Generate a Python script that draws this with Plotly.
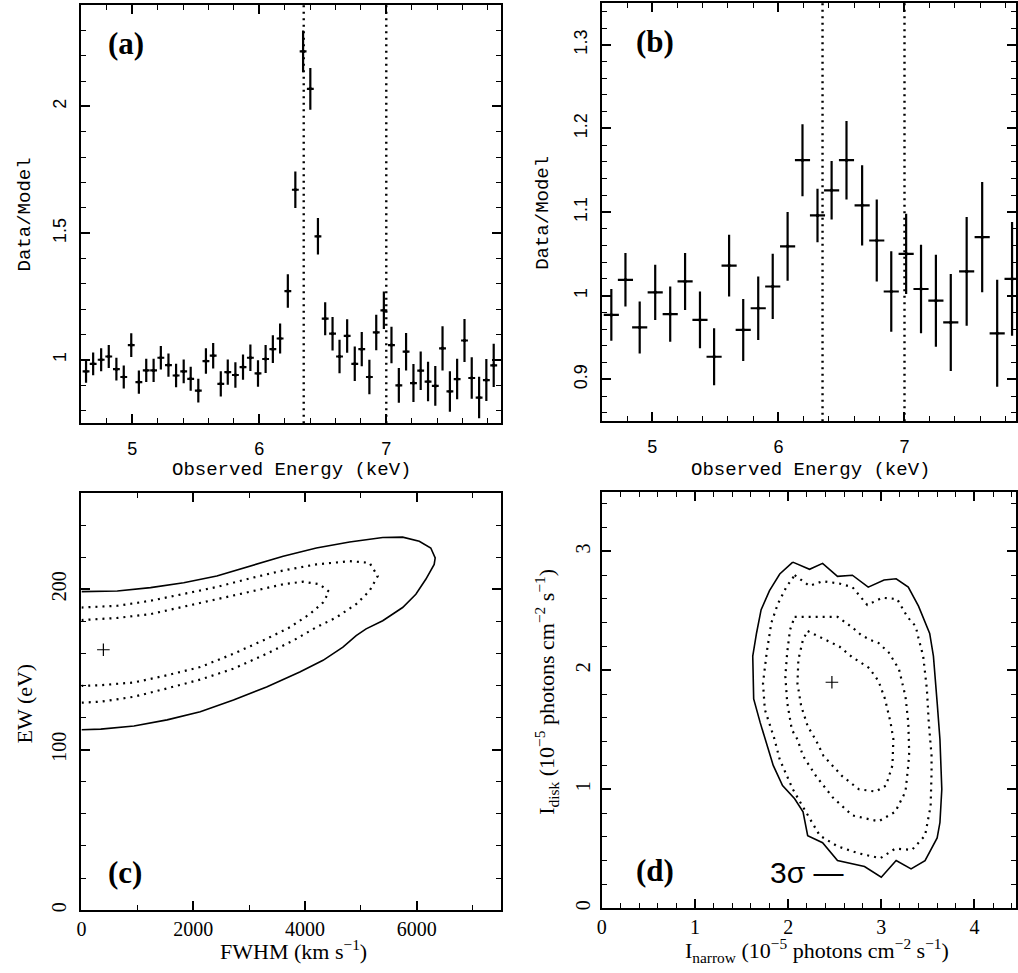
import plotly.graph_objects as go

# ---------------- DATA ----------------
# Panel (a): Data/Model ratio
energy_a = [4.636, 4.692, 4.755, 4.815, 4.875, 4.933, 4.992, 5.052, 5.110, 5.168,
            5.225, 5.285, 5.345, 5.405, 5.460, 5.520, 5.580, 5.637, 5.697, 5.752,
            5.812, 5.872, 5.930, 5.990, 6.050, 6.107, 6.164, 6.225, 6.284, 6.345,
            6.402, 6.462, 6.519, 6.577, 6.632, 6.692, 6.752, 6.807, 6.867, 6.921,
            6.981, 7.041, 7.099, 7.156, 7.214, 7.271, 7.329, 7.386, 7.443, 7.501,
            7.558, 7.616, 7.673, 7.731, 7.788, 7.846]
ratio_a = [0.954, 0.984, 1.000, 1.013, 0.963, 0.932, 1.058, 0.912, 0.958, 0.958,
           1.008, 0.979, 0.938, 0.954, 0.925, 0.878, 0.995, 1.016, 0.905, 0.951,
           0.940, 0.971, 1.008, 0.946, 1.003, 1.042, 1.084, 1.271, 1.671, 2.217,
           2.069, 1.487, 1.162, 1.103, 1.013, 1.094, 0.984, 1.042, 0.932, 1.108,
           1.195, 1.058, 0.899, 1.032, 0.908, 0.957, 0.914, 0.897, 1.045, 0.875,
           0.924, 1.076, 0.928, 0.851, 0.920, 0.978]
err_a = [0.045, 0.045, 0.045, 0.045, 0.045, 0.045, 0.047, 0.046, 0.046, 0.046,
         0.046, 0.046, 0.046, 0.047, 0.047, 0.047, 0.050, 0.050, 0.050, 0.050,
         0.050, 0.050, 0.052, 0.052, 0.055, 0.055, 0.059, 0.066, 0.072, 0.082,
         0.082, 0.072, 0.065, 0.066, 0.066, 0.066, 0.068, 0.068, 0.068, 0.070,
         0.074, 0.072, 0.069, 0.074, 0.075, 0.076, 0.078, 0.078, 0.087, 0.080,
         0.080, 0.085, 0.082, 0.082, 0.083, 0.085]
halfbin_a = 0.027

# Panel (b): Data/Model ratio (coarser binning)
energy_b = [4.675, 4.787, 4.900, 5.023, 5.142, 5.260, 5.378, 5.490, 5.609, 5.721,
            5.840, 5.955, 6.073, 6.191, 6.310, 6.422, 6.540, 6.664, 6.780, 6.895,
            7.013, 7.131, 7.249, 7.367, 7.493, 7.616, 7.735, 7.853]
ratio_b = [0.977, 1.019, 0.962, 1.004, 0.978, 1.017, 0.971, 0.927, 1.036, 0.959,
           0.985, 1.011, 1.059, 1.162, 1.096, 1.126, 1.162, 1.108, 1.066, 1.005,
           1.050, 1.008, 0.994, 0.968, 1.029, 1.070, 0.955, 1.020]
err_b = [0.031, 0.032, 0.031, 0.033, 0.033, 0.034, 0.034, 0.034, 0.037, 0.037,
         0.038, 0.039, 0.041, 0.043, 0.032, 0.035, 0.047, 0.048, 0.049, 0.048,
         0.048, 0.053, 0.055, 0.058, 0.065, 0.066, 0.064, 0.068]
halfbin_b = 0.06

line_energies = [6.35, 7.0]

# Panel (c): EW vs FWHM confidence contours
c_outer_fwhm = [0, 641, 1236, 1829, 2422, 3016, 3610, 4203, 4798, 5391, 5747, 6045, 6251,
                6330, 6312, 6162, 5984, 5747, 5391, 5094, 4916, 4679, 4323, 3907, 3313,
                2720, 2126, 1532, 939, 345, 0]
c_outer_ew = [198.5, 198.9, 201.0, 204.1, 208.2, 214.4, 220.6, 225.7, 229.4, 232.3, 232.5,
              229.9, 225.7, 219.5, 215.5, 206.2, 196.9, 188.6, 180.4, 175.3, 171.1, 163.9,
              155.7, 148.4, 139.1, 130.9, 123.7, 118.6, 114.8, 112.8, 112.4]
c_mid_fwhm = [0, 641, 1236, 1829, 2422, 3016, 3610, 4203, 4798, 5154, 5302, 5154, 4916,
              4559, 4203, 3788, 3313, 2720, 2126, 1532, 939, 345, 0]
c_mid_ew = [188.6, 189.7, 192.8, 196.9, 201.4, 206.8, 211.7, 215.5, 217.5, 216.5, 208.2,
            198.9, 190.7, 182.4, 176.3, 168.0, 159.8, 150.5, 143.7, 138.2, 133.0, 129.9, 129.3]
c_in_fwhm = [0, 641, 1236, 1829, 2422, 3016, 3610, 3966, 4263, 4430, 4323, 4085, 3729,
             3313, 2720, 2126, 1532, 939, 345, 0]
c_in_ew = [180.8, 182.1, 184.5, 189.1, 193.8, 198.5, 203.1, 204.7, 203.1, 198.5, 191.7,
           184.5, 176.3, 169.1, 159.8, 151.5, 146.4, 141.9, 140.2, 139.8]
c_best = (392, 162.3)

# Panel (d): I_disk vs I_narrow confidence contours
d_c3_x = [2.05, 2.17, 2.23, 2.37, 2.53, 2.69, 2.86, 3.03, 3.16, 3.29, 3.40, 3.52, 3.56,
          3.60, 3.63, 3.65, 3.63, 3.60, 3.47, 3.32, 3.16, 3.00, 2.82, 2.53, 2.37, 2.21,
          2.16, 2.07, 1.94, 1.84, 1.82, 1.76, 1.70, 1.63, 1.62, 1.66, 1.71, 1.80, 1.91, 2.05]
d_c3_y = [2.91, 2.87, 2.85, 2.90, 2.79, 2.80, 2.70, 2.76, 2.77, 2.70, 2.54, 2.31, 2.12,
          1.73, 1.42, 1.00, 0.72, 0.59, 0.40, 0.33, 0.40, 0.26, 0.35, 0.40, 0.55, 0.61,
          0.81, 0.92, 1.03, 1.20, 1.25, 1.42, 1.56, 1.76, 2.12, 2.31, 2.51, 2.67, 2.81, 2.91]
d_c2_x = [2.07, 2.23, 2.37, 2.55, 2.69, 2.85, 3.01, 3.17, 3.28, 3.37, 3.40, 3.45, 3.49,
          3.51, 3.54, 3.54, 3.53, 3.47, 3.33, 3.15, 2.99, 2.76, 2.53, 2.34, 2.19, 2.05,
          1.91, 1.85, 1.75, 1.73, 1.77, 1.82, 1.89, 1.98, 2.07]
d_c2_y = [2.80, 2.71, 2.75, 2.73, 2.70, 2.55, 2.61, 2.60, 2.45, 2.37, 2.27, 2.12, 1.84,
          1.56, 1.28, 1.14, 0.86, 0.61, 0.49, 0.50, 0.42, 0.46, 0.52, 0.61, 0.81, 1.00,
          1.25, 1.43, 1.67, 1.89, 2.15, 2.40, 2.56, 2.70, 2.80]
d_c1_x = [2.07, 2.26, 2.53, 2.69, 2.78, 2.87, 2.97, 3.08, 3.19, 3.26, 3.29, 3.30, 3.29,
          3.26, 3.15, 2.97, 2.69, 2.48, 2.30, 2.16, 2.10, 2.04, 1.99, 1.97, 1.99, 2.02, 2.07]
d_c1_y = [2.45, 2.45, 2.45, 2.36, 2.30, 2.26, 2.23, 2.15, 2.01, 1.78, 1.56, 1.31, 1.20,
          0.98, 0.81, 0.73, 0.78, 0.93, 1.11, 1.28, 1.42, 1.50, 1.73, 1.95, 2.15, 2.34, 2.45]
d_c0_x = [2.21, 2.37, 2.55, 2.69, 2.87, 2.97, 3.04, 3.10, 3.13, 3.12, 3.05, 2.94, 2.76,
          2.58, 2.38, 2.30, 2.21, 2.14, 2.10, 2.11, 2.16, 2.21]
d_c0_y = [2.33, 2.27, 2.20, 2.11, 2.02, 1.91, 1.76, 1.56, 1.42, 1.20, 1.03, 0.98, 1.00,
          1.11, 1.28, 1.41, 1.53, 1.70, 1.89, 2.09, 2.26, 2.33]
d_best = (2.47, 1.90)

# ---------------- FIGURE ----------------
W, H = 1018, 973


def xdom(l, r):
    return [l / W, min(r / W, 1.0)]


def ydom(t, b):
    return [1 - b / H, 1 - t / H]


fig = go.Figure()

ebar = dict(type='data', color='black', thickness=2.2, width=0)

fig.add_trace(go.Scatter(
    x=energy_a, y=ratio_a, mode='markers',
    marker=dict(size=3.5, color='black'),
    error_y=dict(array=err_a, **ebar),
    error_x=dict(array=[halfbin_a] * len(energy_a), **ebar),
    xaxis='x', yaxis='y', showlegend=False))

fig.add_trace(go.Scatter(
    x=energy_b, y=ratio_b, mode='markers',
    marker=dict(size=3.5, color='black'),
    error_y=dict(array=err_b, **ebar),
    error_x=dict(array=[halfbin_b] * len(energy_b), **ebar),
    xaxis='x2', yaxis='y2', showlegend=False))

dotted = dict(color='black', width=2.2, dash='2px,5px')
solid = dict(color='black', width=1.6)

# panel c contours
fig.add_trace(go.Scatter(x=c_outer_fwhm, y=c_outer_ew, mode='lines', line=solid,
                         xaxis='x3', yaxis='y3', showlegend=False))
fig.add_trace(go.Scatter(x=c_mid_fwhm, y=c_mid_ew, mode='lines', line=dotted,
                         xaxis='x3', yaxis='y3', showlegend=False))
fig.add_trace(go.Scatter(x=c_in_fwhm, y=c_in_ew, mode='lines', line=dotted,
                         xaxis='x3', yaxis='y3', showlegend=False))
fig.add_trace(go.Scatter(x=[c_best[0]], y=[c_best[1]], mode='markers',
                         marker=dict(symbol='cross-thin', size=9,
                                     line=dict(color='black', width=1.2)),
                         xaxis='x3', yaxis='y3', showlegend=False))

# panel d contours
fig.add_trace(go.Scatter(x=d_c3_x, y=d_c3_y, mode='lines', line=solid,
                         xaxis='x4', yaxis='y4', showlegend=False))
for cx, cy in [(d_c2_x, d_c2_y), (d_c1_x, d_c1_y), (d_c0_x, d_c0_y)]:
    fig.add_trace(go.Scatter(x=cx, y=cy, mode='lines', line=dotted,
                             xaxis='x4', yaxis='y4', showlegend=False))
fig.add_trace(go.Scatter(x=[d_best[0]], y=[d_best[1]], mode='markers',
                         marker=dict(symbol='cross-thin', size=9,
                                     line=dict(color='black', width=1.2)),
                         xaxis='x4', yaxis='y4', showlegend=False))

# vertical dotted lines at line energies
shapes = []
for xa in ['x', 'x2']:
    for e in line_energies:
        shapes.append(dict(type='line', xref=xa, yref=xa.replace('x', 'y') + ' domain',
                           x0=e, x1=e, y0=0, y1=1,
                           line=dict(color='black', width=2.4, dash='2px,4.5px')))


def axis(dom, rng, dtick, mdtick, tfont, tickangle=0, standoff=0, anchor=None):
    d = dict(domain=dom, range=rng, dtick=dtick, tick0=0,
             showline=True, linecolor='black', linewidth=1.6, mirror='ticks',
             ticks='inside', ticklen=9, tickwidth=1.5, tickcolor='black',
             showgrid=False, zeroline=False, tickfont=tfont, tickangle=tickangle,
             ticklabelstandoff=standoff, fixedrange=True,
             minor=dict(ticks='inside', ticklen=5, tickwidth=1.2, tickcolor='black',
                        dtick=mdtick, tick0=0, showgrid=False))
    if anchor:
        d['anchor'] = anchor
    return d


sans = dict(family='Liberation Sans', size=18, color='black')
serif = dict(family='Liberation Serif', size=20, color='black')

layout = dict(
    width=W, height=H, margin=dict(l=0, r=0, t=0, b=0),
    paper_bgcolor='white', plot_bgcolor='white', showlegend=False,
    xaxis=axis(xdom(77, 499), [4.6, 7.9], 1, 0.2, sans, 0, 8, 'y'),
    yaxis=axis(ydom(5, 424), [0.75, 2.4], 0.5, 0.1, sans, -90, 6, 'x'),
    xaxis2=axis(xdom(601, 1020), [4.6, 4.6 + 3.3 * 417 / 419], 1, 0.2, sans, 0, 8, 'y2'),
    yaxis2=axis(ydom(3, 422), [0.85, 1.35], 0.1, 0.02, sans, -90, 6, 'x2'),
    xaxis3=axis(xdom(77, 499), [0, 7500], 2000, 1000, serif, 0, 0, 'y3'),
    yaxis3=axis(ydom(494, 912), [0, 260], 100, 20, serif, -90, 6, 'x3'),
    xaxis4=axis(xdom(601, 1022), [0, 4.5 * 417 / 422], 1, 0.2, serif, 0, 0, 'y4'),
    yaxis4=axis(ydom(493, 910), [0, 3.5], 1, 0.2, serif, -90, 2, 'x4'),
    shapes=shapes,
)
fig.update_layout(**layout)

mono = dict(family='Liberation Mono', size=19, color='black')
serif_t = dict(family='Liberation Serif', size=22, color='black')
bold = dict(family='Liberation Serif', size=31, color='black')


def ann(text, px, py, font, angle=0):
    return dict(text=text, x=px / W, y=1 - py / H, xref='paper', yref='paper',
                xanchor='center', yanchor='middle', showarrow=False, font=font,
                textangle=angle)


annotations = [
    ann('Observed Energy (keV)', 288, 471, mono),
    ann('Observed Energy (keV)', 811, 471, mono),
    ann('Data/Model', 20, 215, mono, -90),
    ann('Data/Model', 541, 213, mono, -90),
    ann('FWHM (km s<sup>−1</sup>)', 290, 952, serif_t),
    ann('EW (eV)', 20, 705, serif_t, -90),
    ann('I<sub>narrow</sub> (10<sup>−5</sup> photons cm<sup>−2</sup> s<sup>−1</sup>)',
        818, 952, serif_t),
    ann('I<sub>disk</sub> (10<sup>−5</sup> photons cm<sup>−2</sup> s<sup>−1</sup>)',
        545, 693, serif_t, -90),
    ann('<b>(a)</b>', 122, 44, bold),
    ann('<b>(b)</b>', 655, 42, bold),
    ann('<b>(c)</b>', 121, 874, bold),
    ann('<b>(d)</b>', 655, 872, bold),
    dict(text='3σ —', x=1.78, y=0.30, xref='x4', yref='y4', xanchor='left',
         yanchor='middle', showarrow=False,
         font=dict(family='Liberation Sans', size=30, color='black')),
]
fig.update_layout(annotations=annotations)

fig.write_html("out.html", config={'displayModeBar': False},
               post_script="document.body.style.margin='0';document.body.style.overflow='hidden';")
